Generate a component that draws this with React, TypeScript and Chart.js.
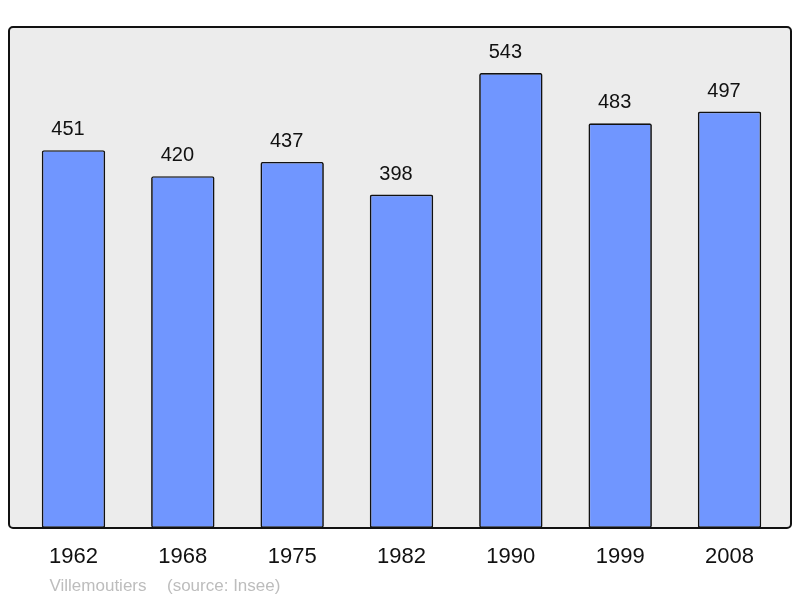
import React, { useEffect, useRef } from "react";
import { Chart, registerables } from "chart.js";

Chart.register(...registerables);

const categories = ["1962", "1968", "1975", "1982", "1990", "1999", "2008"];
const population = [451, 420, 437, 398, 543, 483, 497];
const yMax = 598;
const townName = "Villemoutiers";
const sourceText = "(source: Insee)";

const FONT = "'Liberation Sans', Arial, sans-serif";

const boxPlugin = {
  id: "boxPlugin",
  beforeDatasetsDraw(chart: any) {
    const { ctx, chartArea } = chart;
    const l = chartArea.left - 9.8;
    const r = chartArea.right + 6.8;
    const t = chartArea.top;
    const b = chartArea.bottom;
    ctx.save();
    ctx.beginPath();
    ctx.roundRect(l, t, r - l, b - t, 4);
    ctx.fillStyle = "#ececec";
    ctx.fill();
    ctx.restore();
  },
  afterDatasetsDraw(chart: any) {
    const { ctx, chartArea } = chart;
    const l = chartArea.left - 9.8;
    const r = chartArea.right + 6.8;
    const t = chartArea.top;
    const b = chartArea.bottom;
    ctx.save();
    ctx.beginPath();
    ctx.roundRect(l, t, r - l, b - t, 4);
    ctx.lineWidth = 2;
    ctx.strokeStyle = "#111";
    ctx.stroke();
    // value labels
    const meta = chart.getDatasetMeta(0);
    ctx.fillStyle = "#111";
    ctx.font = `20px ${FONT}`;
    ctx.textAlign = "center";
    ctx.textBaseline = "middle";
    meta.data.forEach((el: any, i: number) => {
      ctx.fillText(String(population[i]), el.x - 5.5, el.y - 20.5);
    });
    // source
    ctx.fillStyle = "#bdbdbd";
    ctx.font = `17px ${FONT}`;
    ctx.textAlign = "left";
    ctx.textBaseline = "alphabetic";
    ctx.fillText(townName, 49.5, 591);
    ctx.fillText(sourceText, 167, 591);
    ctx.restore();
  },
};

export default function App() {
  const ref = useRef<HTMLCanvasElement>(null);
  useEffect(() => {
    const chart = new Chart(ref.current!, {
      type: "bar",
      data: {
        labels: categories,
        datasets: [
          {
            data: population,
            backgroundColor: "#7096ff",
            borderColor: "#111",
            borderWidth: 1.7,
            borderRadius: 2,
            borderSkipped: false,
            barPercentage: 0.58,
            categoryPercentage: 1,
          },
        ],
      },
      options: {
        animation: false,
        responsive: false,
        layout: { padding: { top: 27, left: 18.8, right: 15.8, bottom: 0 } },
        plugins: { legend: { display: false }, tooltip: { enabled: false } },
        scales: {
          x: {
            grid: { display: false, drawTicks: false },
            border: { display: false },
            ticks: { color: "#111", font: { family: FONT, size: 22 }, padding: 16 },
            afterFit: (s: any) => {
              s.height = 70;
            },
          },
          y: {
            display: false,
            min: 0,
            max: yMax,
          },
        },
      },
      plugins: [boxPlugin],
    });
    return () => chart.destroy();
  }, []);
  return (
    <div style={{ position: "fixed", left: 0, top: 0, width: 800, height: 598, background: "#fff" }}>
      <canvas ref={ref} width={800} height={598} />
    </div>
  );
}
